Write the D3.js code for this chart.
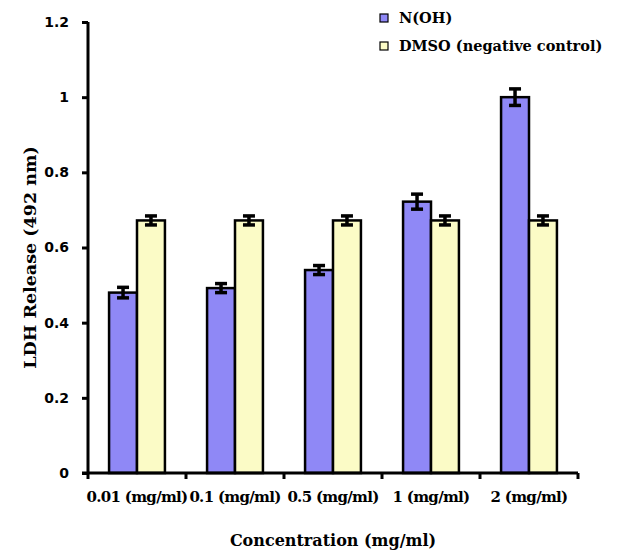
<!DOCTYPE html>
<html>
<head>
<meta charset="utf-8">
<script src="https://cdn.jsdelivr.net/npm/d3@7"></script>
<style>
  body { margin: 0; background: #fff; }
</style>
</head>
<body>
<div id="chart"></div>
<script>
const categories = ['0.01 (mg/ml)', '0.1 (mg/ml)', '0.5 (mg/ml)', '1 (mg/ml)', '2 (mg/ml)']
const seriesNames = ['N(OH)', 'DMSO (negative control)']
const nohValues = [0.48, 0.492, 0.54, 0.722, 1.0]
const nohErrors = [0.014, 0.012, 0.012, 0.02, 0.022]
const dmsoValues = [0.672, 0.672, 0.672, 0.672, 0.672]
const dmsoErrors = [0.012, 0.012, 0.012, 0.012, 0.012]
const yTicks = [0, 0.2, 0.4, 0.6, 0.8, 1, 1.2]

const width = 635
const height = 553
const margin = {left: 88, right: 57, top: 22, bottom: 80}
const colors = ['#8f88f6', '#fbfbc6']

const svg = d3.select('#chart').append('svg')
    .attr('width', width)
    .attr('height', height)

const x0 = d3.scaleBand()
    .domain(categories)
    .range([margin.left, width - margin.right])
    .paddingInner(0.43)
    .paddingOuter(0.215)

const x1 = d3.scaleBand()
    .domain([0, 1])
    .range([0, x0.bandwidth()])

const y = d3.scaleLinear()
    .domain([0, 1.2])
    .range([height - margin.bottom, margin.top])

// build rows for the bars
const rows = []
categories.forEach((c, i) => {
    rows.push({cat: c, s: 0, v: nohValues[i], e: nohErrors[i]})
    rows.push({cat: c, s: 1, v: dmsoValues[i], e: dmsoErrors[i]})
})

svg.append('g')
    .selectAll('rect')
    .data(rows)
    .join('rect')
    .attr('x', d => x0(d.cat) + x1(d.s))
    .attr('y', d => y(d.v))
    .attr('width', x1.bandwidth())
    .attr('height', d => y(0) - y(d.v))
    .attr('fill', d => colors[d.s])
    .attr('stroke', '#000')
    .attr('stroke-width', 2.5)

// error bars (upper and lower caps)
const eb = svg.append('g').attr('stroke', '#000').attr('stroke-width', 3.5)
rows.forEach(d => {
    const cx = x0(d.cat) + x1(d.s) + x1.bandwidth() / 2
    eb.append('line')
        .attr('x1', cx).attr('x2', cx)
        .attr('y1', y(d.v + d.e)).attr('y2', y(d.v - d.e))
    eb.append('line')
        .attr('x1', cx - 6).attr('x2', cx + 6)
        .attr('y1', y(d.v + d.e)).attr('y2', y(d.v + d.e))
    eb.append('line')
        .attr('x1', cx - 6).attr('x2', cx + 6)
        .attr('y1', y(d.v - d.e)).attr('y2', y(d.v - d.e))
})

// y axis
const yAxis = g => g
    .attr('transform', `translate(${margin.left}, 0)`)
    .call(d3.axisLeft(y).tickValues(yTicks).tickSize(6).tickPadding(13).tickFormat(d => d3.format('')(d)))
    .call(g => g.select('.domain').attr('stroke-width', 3).attr('d', `M0,${y(1.2)}V${y(0)}`))
    .call(g => g.selectAll('.tick line').attr('stroke-width', 3))
    .call(g => g.selectAll('text')
        .attr('font-family', 'DejaVu Sans')
        .attr('font-weight', 'bold')
        .attr('font-size', 14)
        .attr('fill', '#000'))

// x axis
const xTickPos = categories.map((c, i) => margin.left + i * x0.step())
const xAxis = g => g
    .attr('transform', `translate(0, ${y(0)})`)
    .call(g => g.append('line')
        .attr('x1', margin.left - 6).attr('x2', width - margin.right)
        .attr('stroke', '#000').attr('stroke-width', 3))
    .call(g => g.selectAll('.xt')
        .data(xTickPos.concat([width - margin.right]))
        .join('line')
        .attr('x1', d => d).attr('x2', d => d)
        .attr('y1', 0).attr('y2', 6)
        .attr('stroke', '#000').attr('stroke-width', 3))
    .call(g => g.selectAll('text')
        .data(categories)
        .join('text')
        .attr('x', d => x0(d) + x0.bandwidth() / 2)
        .attr('y', 29)
        .attr('text-anchor', 'middle')
        .attr('font-family', 'DejaVu Serif')
        .attr('font-weight', 'bold')
        .attr('font-size', 15)
        .attr('letter-spacing', -0.7)
        .text(d => d))

svg.append('g').call(yAxis)
svg.append('g').call(xAxis)

// axis titles
svg.append('text')
    .attr('x', (margin.left + width - margin.right) / 2)
    .attr('y', 546)
    .attr('text-anchor', 'middle')
    .attr('font-family', 'DejaVu Serif')
    .attr('font-weight', 'bold')
    .attr('font-size', 16)
    .text('Concentration (mg/ml)')

svg.append('text')
    .attr('transform', `translate(36, ${(y(0) + y(1.2)) / 2 + 10}) rotate(-90)`)
    .attr('text-anchor', 'middle')
    .attr('font-family', 'DejaVu Serif')
    .attr('font-weight', 'bold')
    .attr('font-size', 17.5)
    .text('LDH Release (492 nm)')

// legend
const legend = svg.append('g')
    .attr('transform', 'translate(380, 14)')
    .selectAll('g')
    .data(seriesNames)
    .join('g')
    .attr('transform', (d, i) => `translate(0, ${i * 28})`)
legend.append('rect')
    .attr('width', 8).attr('height', 8)
    .attr('fill', (d, i) => colors[i])
    .attr('stroke', '#000').attr('stroke-width', 1.2)
legend.append('text')
    .attr('x', 19).attr('y', 9)
    .attr('font-family', 'DejaVu Serif')
    .attr('font-weight', 'bold')
    .attr('font-size', 14.5)
    .text(d => d)
</script>
</body>
</html>
